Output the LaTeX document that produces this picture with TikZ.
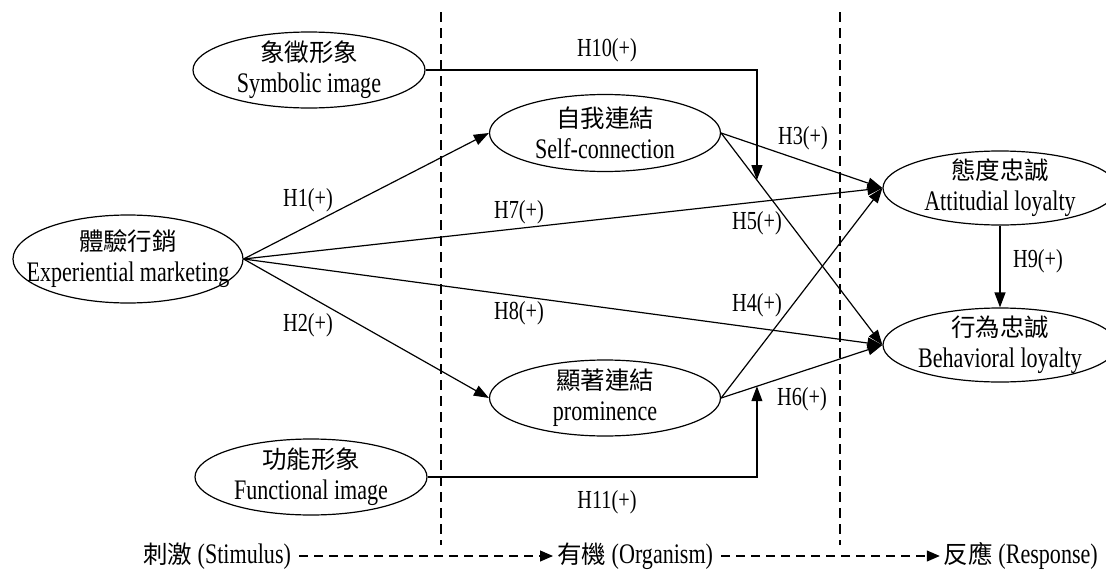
\documentclass[tikz,border=0pt]{standalone}
\usepackage{fontspec}
\setmainfont{Liberation Serif}[FakeStretch=0.78]
\newfontfamily\cjkfam{Noto Sans CJK TC}
\newcommand{\cjk}{\cjkfam\fontsize{24.5}{30}\selectfont}
\usetikzlibrary{shapes.geometric,arrows.meta,calc}
\tikzset{
  ell/.style={draw, ellipse, line width=1.2pt, inner xsep=-40pt, inner ysep=-10pt, align=center, font=\fontsize{28.3}{31}\selectfont},
  lab/.style={font=\fontsize{26}{30}\selectfont, inner sep=0pt},
  conn/.style={line width=1.2pt, -{Triangle[length=15pt,width=11pt]}},
  sepline/.style={line width=1.1pt, dash pattern=on 10pt off 6pt},
  flow/.style={line width=1.1pt, dash pattern=on 9pt off 6pt, -{Triangle[length=13pt,width=11pt]}},
  bot/.style={font=\fontsize{28.3}{33}\selectfont, inner sep=0pt}
}
\begin{document}
\begin{tikzpicture}[x=1pt,y=-1pt]
\useasboundingbox (0,0) rectangle (1106,570);
\clip (0,0) rectangle (1106,570);
\fill[white] (0,0) rectangle (1106,570);
\draw[sepline] (441,12) -- (441,545);
\draw[sepline] (840,12) -- (840,545);

\node[ell, minimum width=232pt, minimum height=76pt] (sym) at (309,70) {{\cjk 象徵形象}\\Symbolic image};
\node[ell, minimum width=230pt, minimum height=88pt] (exp) at (128,259) {{\cjk 體驗行銷}\\Experiential marketing};
\node[ell, minimum width=231pt, minimum height=77pt] (self) at (605,133) {{\cjk 自我連結}\\Self-connection};
\node[ell, minimum width=231pt, minimum height=76pt] (prom) at (605,398) {{\cjk 顯著連結}\\prominence};
\node[ell, minimum width=234pt, minimum height=74pt] (att) at (1000,188) {{\cjk 態度忠誠}\\Attitudial loyalty};
\node[ell, minimum width=234pt, minimum height=74pt] (beh) at (1000,345) {{\cjk 行為忠誠}\\Behavioral loyalty};
\node[ell, minimum width=232pt, minimum height=76pt] (fun) at (311,477) {{\cjk 功能形象}\\Functional image};

\draw[conn] (exp.east) -- (self.west);
\draw[conn] (exp.east) -- (prom.west);
\draw[conn] (exp.east) -- (att.west);
\draw[conn] (exp.east) -- (beh.west);
\draw[conn] (self.east) -- (att.west);
\draw[conn] (self.east) -- (beh.west);
\draw[conn] (prom.east) -- (att.west);
\draw[conn] (prom.east) -- (beh.west);
\draw[conn] (att.south) -- (beh.north);
\path (self.east) -- (beh.west) coordinate[pos=0.222] (m5);
\path (prom.east) -- (beh.west) coordinate[pos=0.222] (m6);
\draw[conn] (sym.east) -| (m5);
\draw[conn] (fun.east) -| (m6);

\node[lab] (h10) at (607,50) {H10(+)};
\node[lab] (h11) at (607,502) {H11(+)};
\node[lab] (h1) at (308,200) {H1(+)};
\node[lab] (h2) at (308,325) {H2(+)};
\node[lab] (h7) at (519,212) {H7(+)};
\node[lab] (h8) at (519,313) {H8(+)};
\node[lab] (h3) at (803,138) {H3(+)};
\node[lab] (h5) at (757,223) {H5(+)};
\node[lab] (h4) at (757,305) {H4(+)};
\node[lab] (h9) at (1038,261) {H9(+)};
\node[lab] (h6) at (802,399) {H6(+)};

\node[bot, anchor=west] (sti) at (143,556) {{\cjk 刺激} (Stimulus)};
\node[bot, anchor=west] (org) at (557,556) {{\cjk 有機} (Organism)};
\node[bot, anchor=east] (res) at (1098,556) {{\cjk 反應} (Response)};
\draw[flow] ([xshift=8pt]sti.east) -- ([xshift=-4pt]org.west);
\draw[flow] ([xshift=8pt]org.east) -- ([xshift=-4pt]res.west);
\end{tikzpicture}
\end{document}
